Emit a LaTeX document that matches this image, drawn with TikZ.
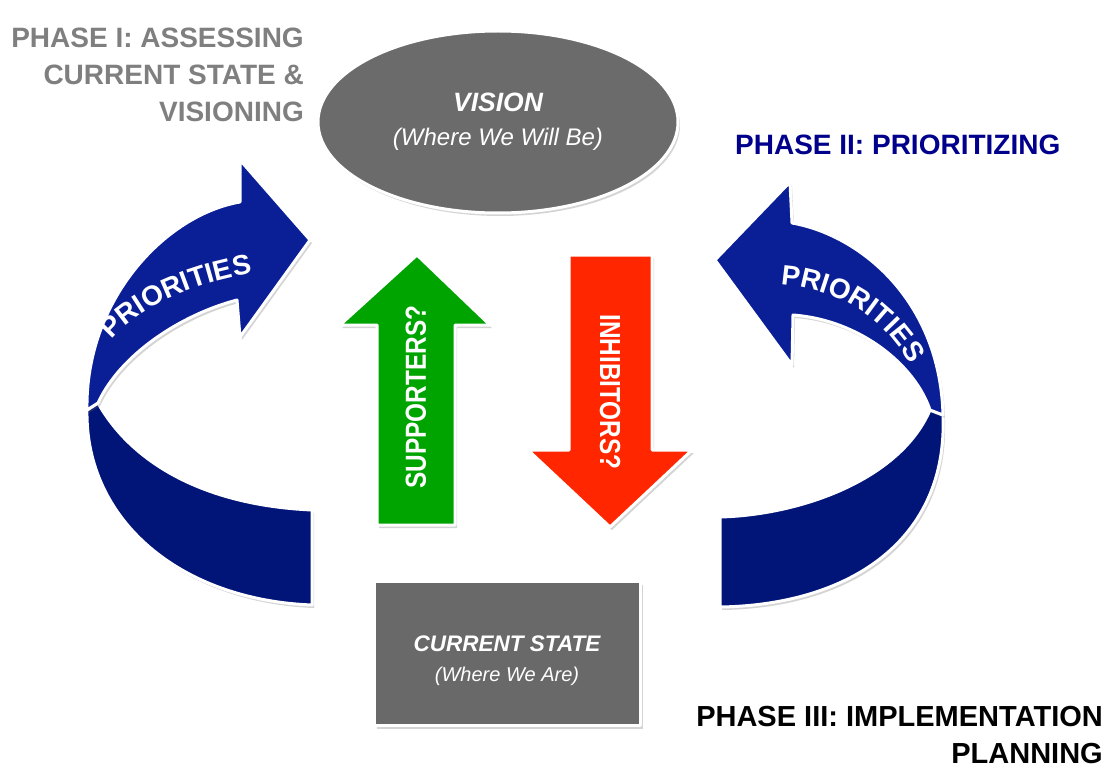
\documentclass[tikz,border=0pt]{standalone}
\usepackage{fontspec}
\setmainfont{Liberation Sans}
\newfontfamily\narrowfont[FakeStretch=0.84]{Liberation Sans}
\newfontfamily\ribbonfont[LetterSpace=7]{Liberation Sans}
\usetikzlibrary{shapes.geometric,shadows,decorations.text}

\definecolor{ribbonlight}{HTML}{0A1E96}
\definecolor{ribbondark}{HTML}{011478}
\definecolor{ovalgray}{HTML}{6B6B6B}
\definecolor{boxgray}{HTML}{696969}
\definecolor{upgreen}{HTML}{00A400}
\definecolor{downred}{HTML}{FF2600}
\definecolor{phasegray}{HTML}{7F7F7F}
\definecolor{phasenavy}{HTML}{00008C}
\newcommand\ribbontext{\ribbonfont\bfseries\fontsize{28}{28}\selectfont}

\begin{document}
\begin{tikzpicture}[x=1pt,y=1pt,
  softshadow/.style={drop shadow={shadow xshift=2pt,shadow yshift=-3pt,opacity=0.28,fill=black!60}},
  rim/.style={draw=white,line width=3pt,line join=round,softshadow},
  phase/.style={font=\bfseries\fontsize{28}{37}\selectfont,inner sep=0pt},
  vertlabel/.style={text=white,font=\narrowfont\bfseries\fontsize{29}{29}\selectfont,inner sep=0pt},
  ribbonlabel/.style={decorate,decoration={text along path,text={|\ribbontext|PRIORITIES},text align=center,text color=white}}
]
\useasboundingbox (0,0) rectangle (1115,-770);

% left ribbon arrow: back band, then front band with head
\path[rim,fill=ribbondark] (87,-410) .. controls (85,-520) and (180,-600) .. (312,-605)
  -- (312,-510) .. controls (200,-505) and (130,-460) .. (98,-403) -- cycle;
\path[rim,fill=ribbonlight] (98,-403) .. controls (120,-355) and (180,-315) .. (237,-300)
  -- (240,-337) -- (310,-240) -- (240,-160) -- (240,-202)
  .. controls (165,-215) and (85,-300) .. (87,-410) -- cycle;
\path[ribbonlabel] (106,-348) .. controls (126,-316) and (180,-284) .. (262,-272);

% right ribbon arrow
\path[rim,fill=ribbondark] (943,-415) .. controls (948,-540) and (850,-605) .. (720,-607)
  -- (720,-517) .. controls (800,-515) and (900,-480) .. (930,-410) -- cycle;
\path[rim,fill=ribbonlight] (930,-410) .. controls (915,-365) and (860,-320) .. (793,-315)
  -- (792,-365) -- (715,-260) -- (790,-182) -- (792,-223)
  .. controls (860,-235) and (940,-300) .. (943,-415) -- cycle;
\path[ribbonlabel] (770,-284) .. controls (833,-284) and (890,-318) .. (914,-374);

% vision oval
\node[ellipse,fill=ovalgray,rim,minimum width=360pt,minimum height=182pt,
      text=white,align=center,font=\fontsize{24}{34}\selectfont] (vision) at (498,-122)
  {{\bfseries\itshape\fontsize{26.5}{34}\selectfont VISION}\\{\itshape (Where We Will Be)}};

% current state box
\node[rectangle,fill=boxgray,rim,minimum width=266pt,minimum height=144pt] (current) at (507.5,-653.5) {};
\node[text=white,align=center,font=\fontsize{20}{30}\selectfont] (currenttext) at (507,-661)
  {{\bfseries\itshape\fontsize{22.5}{30}\selectfont CURRENT STATE}\\{\itshape (Where We Are)}};

% supporters arrow (up)
\path[rim,fill=upgreen] (377,-525) -- (377,-325) -- (340,-325) -- (417,-255)
  -- (490,-325) -- (455,-325) -- (455,-525) -- cycle;
\node[vertlabel,rotate=90] (supporters) at (416,-397) {SUPPORTERS?};

% inhibitors arrow (down)
\path[rim,fill=downred] (569,-255) -- (652,-255) -- (652,-450) -- (692,-450)
  -- (610,-527) -- (528,-450) -- (569,-450) -- cycle;
\node[vertlabel,rotate=-90] (inhibitors) at (610,-392) {INHIBITORS?};

% phase headings
\node[phase,text=phasegray,align=right,anchor=north east] (phaseone) at (304,-28)
  {PHASE I: ASSESSING\\CURRENT STATE \&\\VISIONING};
\node[phase,text=phasenavy,anchor=base west] (phasetwo) at (735,-155) {PHASE II: PRIORITIZING};
\node[phase,text=black,align=right,anchor=north east,font=\bfseries\fontsize{29}{37}\selectfont] (phasethree) at (1103,-706)
  {PHASE III: IMPLEMENTATION\\PLANNING};
\end{tikzpicture}
\end{document}
